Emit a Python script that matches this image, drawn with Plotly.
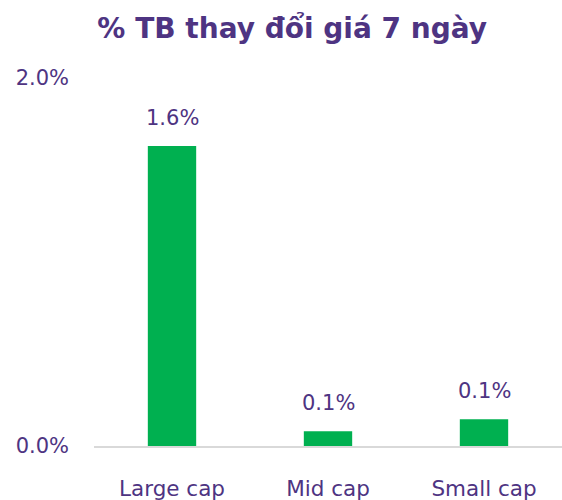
import plotly.graph_objects as go

categories = ["Large cap", "Mid cap", "Small cap"]
values = [1.63, 0.08, 0.145]
labels = ["1.6%", "0.1%", "0.1%"]
y_tickvals = [0.0, 2.0]
y_ticktext = ["0.0%", "2.0%"]

purple = "#4E3482"
green = "#00B050"
font_family = "DejaVu Sans, sans-serif"

fig = go.Figure()
fig.add_trace(go.Bar(
    x=categories, y=values, marker=dict(color=green, line=dict(width=0)),
    hoverinfo="skip",
))
for c, v, t in zip(categories, values, labels):
    fig.add_annotation(x=c, y=v, text=t, showarrow=False, yanchor="bottom",
                       yshift=14, font=dict(size=21, color=purple, family=font_family))

fig.update_layout(
    width=562, height=500,
    margin=dict(l=94, r=0, t=78, b=54),
    paper_bgcolor="white", plot_bgcolor="white",
    bargap=0.69,
    showlegend=False,
    title=dict(text="<b>% TB thay đổi giá 7 ngày</b>", x=0.52, xanchor="center",
               y=0.943, yanchor="middle",
               font=dict(size=28, color=purple, family=font_family)),
    font=dict(family=font_family, color=purple, size=20),
)
fig.update_yaxes(range=[0, 2.0], tickvals=y_tickvals, ticktext=y_ticktext,
                 showgrid=False, zeroline=False, showline=False,
                 ticklabelstandoff=24, tickfont=dict(size=21, color=purple))
fig.update_xaxes(showline=True, linecolor="#D9D9D9", linewidth=2, showgrid=False,
                 ticklabelstandoff=22, tickfont=dict(size=21.5, color=purple))

fig.write_html("out.html")
